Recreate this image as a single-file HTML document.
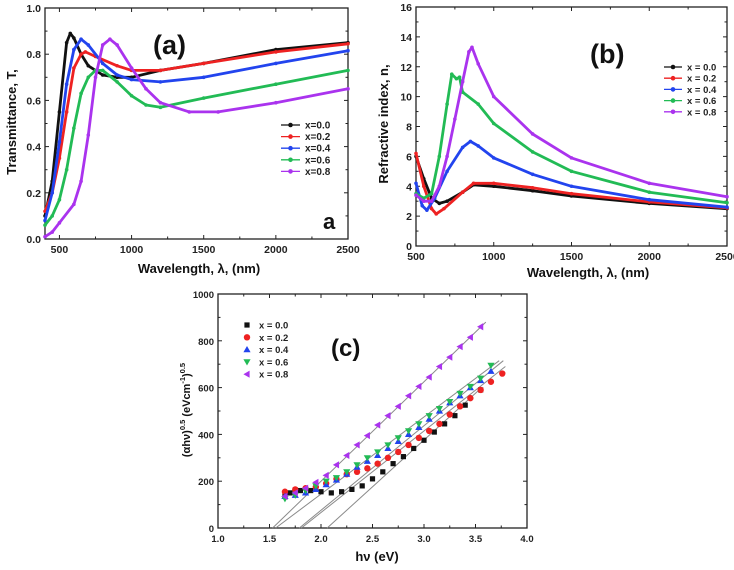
<!DOCTYPE html>
<html><head><meta charset="utf-8"><style>
html,body{margin:0;padding:0;background:#fff;}
svg{display:block;font-family:"Liberation Sans",Arial,sans-serif;}
</style></head><body>
<svg id="fig" width="734" height="570" viewBox="0 0 734 570"></svg>
<script>
// ---------- Panel (a) data: Transmittance ----------
const aWl0 = [400,450,500,550,575,600,650,700,800,900,1000,1200,1500,2000,2500];
const aT0  = [0.10,0.25,0.55,0.85,0.89,0.87,0.80,0.75,0.71,0.70,0.70,0.73,0.76,0.82,0.85];
const aWl2 = [400,450,500,550,600,650,680,750,900,1000,1200,1500,2000,2500];
const aT2  = [0.12,0.20,0.35,0.55,0.74,0.80,0.81,0.79,0.75,0.73,0.73,0.76,0.81,0.845];
const aWl4 = [400,450,500,550,600,650,700,800,900,1000,1200,1500,2000,2500];
const aT4  = [0.08,0.20,0.42,0.67,0.82,0.865,0.84,0.76,0.71,0.69,0.68,0.70,0.76,0.815];
const aWl6 = [400,450,500,550,600,650,700,750,800,900,1000,1100,1200,1500,2000,2500];
const aT6  = [0.06,0.10,0.17,0.30,0.48,0.63,0.70,0.73,0.73,0.68,0.62,0.58,0.57,0.61,0.67,0.73];
const aWl8 = [400,450,500,600,650,700,750,800,850,900,1000,1100,1200,1400,1600,2000,2500];
const aT8  = [0.01,0.03,0.07,0.15,0.25,0.45,0.70,0.84,0.865,0.84,0.74,0.65,0.59,0.55,0.55,0.59,0.65];
const aXTicks = [500,1000,1500,2000,2500];
const aYTicks = ["0.0","0.2","0.4","0.6","0.8","1.0"];
// ---------- Panel (b) data: Refractive index ----------
const bWl0 = [500,550,600,650,700,800,870,1000,1250,1500,2000,2500];
const bN0  = [6.0,4.5,3.2,2.85,3.0,3.6,4.1,4.0,3.7,3.35,2.85,2.5];
const bWl2 = [500,550,600,630,680,800,870,1000,1250,1500,2000,2500];
const bN2  = [6.2,4.0,2.5,2.15,2.5,3.6,4.2,4.2,3.9,3.5,2.95,2.55];
const bWl4 = [500,540,570,620,700,800,850,900,1000,1250,1500,2000,2500];
const bN4  = [4.2,2.7,2.4,3.2,5.0,6.6,7.0,6.7,5.9,4.8,4.0,3.1,2.6];
const bWl6 = [500,550,600,650,700,730,760,780,800,900,1000,1250,1500,2000,2500];
const bN6  = [3.5,3.2,3.5,6.0,9.5,11.5,11.2,11.3,10.3,9.5,8.2,6.3,5.0,3.6,2.9];
const bWl8 = [500,550,600,650,700,750,800,840,860,900,1000,1250,1500,2000,2500];
const bN8  = [3.4,3.0,3.0,4.0,6.0,8.5,11.0,13.0,13.3,12.2,10.0,7.5,5.9,4.2,3.3];
const bXTicks = [500,1000,1500,2000,2500];
const bYTicks = [0,2,4,6,8,10,12,14,16];
// ---------- Panel (c) data: Tauc plot ----------
const cE0 = [1.65,1.7,1.8,1.9,2.0,2.1,2.2,2.3,2.4,2.5,2.6,2.7,2.8,2.9,3.0,3.1,3.2,3.3,3.4,3.55];
const cY0 = [140,150,160,160,155,150,155,165,180,210,240,275,305,340,375,410,445,480,525,590];
const cE2 = [1.65,1.75,1.85,1.95,2.05,2.15,2.25,2.35,2.45,2.55,2.65,2.75,2.85,2.95,3.05,3.15,3.25,3.35,3.45,3.55,3.65,3.76];
const cY2 = [155,165,170,175,190,210,230,240,255,275,300,325,355,385,415,445,485,520,555,590,625,660];
const cE4 = [1.65,1.75,1.85,1.95,2.05,2.15,2.25,2.35,2.45,2.55,2.65,2.75,2.85,2.95,3.05,3.15,3.25,3.35,3.45,3.55,3.65];
const cY4 = [135,140,150,165,185,205,230,260,285,310,340,370,400,430,465,500,535,565,600,630,670];
const cE6 = [1.65,1.75,1.85,1.95,2.05,2.15,2.25,2.35,2.45,2.55,2.65,2.75,2.85,2.95,3.05,3.15,3.25,3.35,3.45,3.55,3.65];
const cY6 = [125,140,160,180,200,215,240,270,300,325,355,385,415,445,480,510,540,575,605,640,695];
const cE8 = [1.65,1.75,1.85,1.95,2.05,2.15,2.25,2.35,2.45,2.55,2.65,2.75,2.85,2.95,3.05,3.15,3.25,3.35,3.45,3.55];
const cY8 = [135,150,170,195,225,270,310,355,395,440,480,520,565,605,645,690,730,775,815,860];
const cFitX0 = [1.53,1.56,1.79,1.81,2.06];
const cFitX1 = [3.60,3.73,3.77,3.79,3.56];
const cFitY1 = [880,715,715,690,600];
const cXTicks = ["1.0","1.5","2.0","2.5","3.0","3.5","4.0"];
const cYTicks = [0,200,400,600,800,1000];
const legendLabelsA = ["x=0.0","x=0.2","x=0.4","x=0.6","x=0.8"];
const legendLabelsB = ["x = 0.0","x = 0.2","x = 0.4","x = 0.6","x = 0.8"];

const COLORS = ["#111111","#ee2222","#2244ee","#22bb55","#aa33ee"];
const NS = "http://www.w3.org/2000/svg";
const svg = document.getElementById('fig');
function mk(tag, attrs, parent){
  const e = document.createElementNS(NS, tag);
  for (const k in attrs) e.setAttribute(k, attrs[k]);
  (parent||svg).appendChild(e); return e;
}
function txt(s, attrs, parent){ const t = mk('text', attrs, parent); t.textContent = s; return t; }

function axes(name, L, R, T, B, xmin, xmax, ymin, ymax, xt, yt, xMinor, yMinor, fs){
  const g = mk('g', {});
  
  
  const sx = v => L + (v - xmin) / (xmax - xmin) * (R - L);
  const sy = v => B - (v - ymin) / (ymax - ymin) * (B - T);
  const fr = mk('rect', {x:L, y:T, width:R-L, height:B-T, fill:'none', stroke:'#222', 'stroke-width':1.3}, g);
  
  
  const xg = mk('g', {}, g);
  
  
  xt.forEach(v => {
    const p = sx(+v);
    mk('line', {x1:p, x2:p, y1:B, y2:B-4, stroke:'#222'}, xg);
    mk('line', {x1:p, x2:p, y1:T, y2:T+4, stroke:'#222'}, xg);
    const t = txt(String(v), {x:p, y:B+14, 'font-size':fs, 'font-weight':'bold', 'text-anchor':'middle', fill:'#222'}, xg);
    
    
  });
  xMinor.forEach(v => { const p = sx(v);
    mk('line', {x1:p, x2:p, y1:B, y2:B-2.5, stroke:'#222'}, xg);
    mk('line', {x1:p, x2:p, y1:T, y2:T+2.5, stroke:'#222'}, xg); });
  const yg = mk('g', {}, g);
  
  
  yt.forEach(v => {
    const p = sy(+v);
    mk('line', {x1:L, x2:L+4, y1:p, y2:p, stroke:'#222'}, yg);
    mk('line', {x1:R, x2:R-4, y1:p, y2:p, stroke:'#222'}, yg);
    const t = txt(String(v), {x:L-4, y:p+4, 'font-size':fs, 'font-weight':'bold', 'text-anchor':'end', fill:'#222'}, yg);
    
    
  });
  yMinor.forEach(v => { const p = sy(v);
    mk('line', {x1:L, x2:L+2.5, y1:p, y2:p, stroke:'#222'}, yg);
    mk('line', {x1:R, x2:R-2.5, y1:p, y2:p, stroke:'#222'}, yg); });
  return {g, sx, sy};
}

function lineSeries(ax, xs, ys, color, name){
  const s = mk('g', {}, ax.g);
  
  
  const pts = xs.map((x,i) => ax.sx(x).toFixed(1) + ',' + ax.sy(ys[i]).toFixed(1)).join(' ');
  mk('polyline', {points:pts, fill:'none', stroke:color, 'stroke-width':2.8, 'stroke-linejoin':'round'}, s);
  xs.forEach((x,i) => mk('circle', {cx:ax.sx(x), cy:ax.sy(ys[i]), r:1.8, fill:color}, s));
}

function marker(parent, kind, x, y, color, r){
  if (kind === 0) return mk('rect', {x:x-r, y:y-r, width:2*r, height:2*r, fill:color}, parent);
  if (kind === 1) return mk('circle', {cx:x, cy:y, r:r+0.6, fill:color}, parent);
  let p;
  if (kind === 2) p = [[x,y-r-1],[x-r-1,y+r],[x+r+1,y+r]];
  else if (kind === 3) p = [[x,y+r+1],[x-r-1,y-r],[x+r+1,y-r]];
  else p = [[x-r-1,y],[x+r,y-r-1],[x+r,y+r+1]];
  return mk('polygon', {points:p.map(q=>q.join(',')).join(' '), fill:color}, parent);
}

function lineLegend(name, labels, x0, x1, tx, y0, dy, fs){
  const lg = mk('g', {});
  
  
  labels.forEach((lab, i) => {
    const y = y0 + i*dy;
    const e = mk('g', {}, lg);
    
    
    mk('line', {x1:x0, x2:x1, y1:y, y2:y, stroke:COLORS[i], 'stroke-width':1.3}, e);
    mk('circle', {cx:(x0+x1)/2, cy:y, r:2.3, fill:COLORS[i]}, e);
    txt(lab, {x:tx, y:y+3.5, 'font-size':fs, 'font-weight':'bold', fill:'#222'}, e);
  });
}

// ===== Panel (a) =====
const A = axes('panel-a', 45, 348, 8, 239, 400, 2500, 0, 1.0, aXTicks, aYTicks,
  [750,1250,1750,2250], [0.1,0.3,0.5,0.7,0.9], 10.5);
lineSeries(A, aWl0, aT0, COLORS[0], 'series-a-x0.0');
lineSeries(A, aWl2, aT2, COLORS[1], 'series-a-x0.2');
lineSeries(A, aWl4, aT4, COLORS[2], 'series-a-x0.4');
lineSeries(A, aWl6, aT6, COLORS[3], 'series-a-x0.6');
lineSeries(A, aWl8, aT8, COLORS[4], 'series-a-x0.8');
lineLegend('legend-a', legendLabelsA, 281, 300, 305, 125, 11.6, 10);
let t;
t = txt('(a)', {x:153, y:54, 'font-size':27, 'font-weight':'bold', fill:'#111'});
 
t = txt('a', {x:323, y:229, 'font-size':22, 'font-weight':'bold', fill:'#111'});
 
t = txt('Wavelength, λ,  (nm)', {x:199, y:273, 'font-size':13, 'font-weight':'bold', 'text-anchor':'middle', fill:'#111'});
 
t = txt('Transmittance, T,', {x:0, y:0, 'font-size':13, 'font-weight':'bold', 'text-anchor':'middle', fill:'#111', transform:'translate(16,122) rotate(-90)'});
 

// ===== Panel (b) =====
const Bx = axes('panel-b', 416, 727, 7, 246, 500, 2500, 0, 16, bXTicks, bYTicks,
  [750,1250,1750,2250], [1,3,5,7,9,11,13,15], 10.5);
lineSeries(Bx, bWl0, bN0, COLORS[0], 'series-b-x0.0');
lineSeries(Bx, bWl2, bN2, COLORS[1], 'series-b-x0.2');
lineSeries(Bx, bWl4, bN4, COLORS[2], 'series-b-x0.4');
lineSeries(Bx, bWl6, bN6, COLORS[3], 'series-b-x0.6');
lineSeries(Bx, bWl8, bN8, COLORS[4], 'series-b-x0.8');
lineLegend('legend-b', legendLabelsB, 664, 682, 687, 67, 11.2, 9.5);
t = txt('(b)', {x:590, y:63, 'font-size':27, 'font-weight':'bold', fill:'#111'});
 
t = txt('Wavelength, λ,  (nm)', {x:588, y:277, 'font-size':13, 'font-weight':'bold', 'text-anchor':'middle', fill:'#111'});
 
t = txt('Refractive index, n,', {x:0, y:0, 'font-size':13, 'font-weight':'bold', 'text-anchor':'middle', fill:'#111', transform:'translate(388,124) rotate(-90)'});
 

// ===== Panel (c) =====
const C = axes('panel-c', 218, 527, 294, 528, 1.0, 4.0, 0, 1000, cXTicks, cYTicks,
  [1.25,1.75,2.25,2.75,3.25,3.75], [100,300,500,700,900], 9.5);
const fits = mk('g', {}, C.g);


cFitX0.forEach((x0, i) => {
  mk('line', {x1:C.sx(x0), y1:C.sy(0), x2:C.sx(cFitX1[i]), y2:C.sy(cFitY1[i]), stroke:'#8a8a8a', 'stroke-width':1}, fits);
});
[[cE0,cY0],[cE2,cY2],[cE4,cY4],[cE6,cY6],[cE8,cY8]].forEach((s, k) => {
  const g = mk('g', {}, C.g);
  
  
  s[0].forEach((e, i) => marker(g, k, C.sx(e), C.sy(s[1][i]), COLORS[k], 2.6));
});
const lc = mk('g', {});


legendLabelsB.forEach((lab, i) => {
  const y = 325 + i*12.3;
  const e = mk('g', {}, lc);
  
  
  marker(e, i, 247, y, COLORS[i], 2.6);
  txt(lab, {x:259, y:y+3.5, 'font-size':9.5, 'font-weight':'bold', fill:'#222'}, e);
});
t = txt('(c)', {x:331, y:356, 'font-size':24, 'font-weight':'bold', fill:'#111'});
 
t = txt('hν     (eV)', {x:377, y:561, 'font-size':13, 'font-weight':'bold', 'text-anchor':'middle', fill:'#111'});
 
const yl = mk('text', {x:0, y:0, 'font-size':11, 'font-weight':'bold', 'text-anchor':'middle', fill:'#111', transform:'translate(190,410) rotate(-90)'});


yl.innerHTML = '(αhν)<tspan font-size="7.5" dy="-5">0.5</tspan><tspan dy="5">  (eVcm</tspan><tspan font-size="7.5" dy="-5">-1</tspan><tspan dy="5">)</tspan><tspan font-size="7.5" dy="-5">0.5</tspan>';
</script>
</body></html>
